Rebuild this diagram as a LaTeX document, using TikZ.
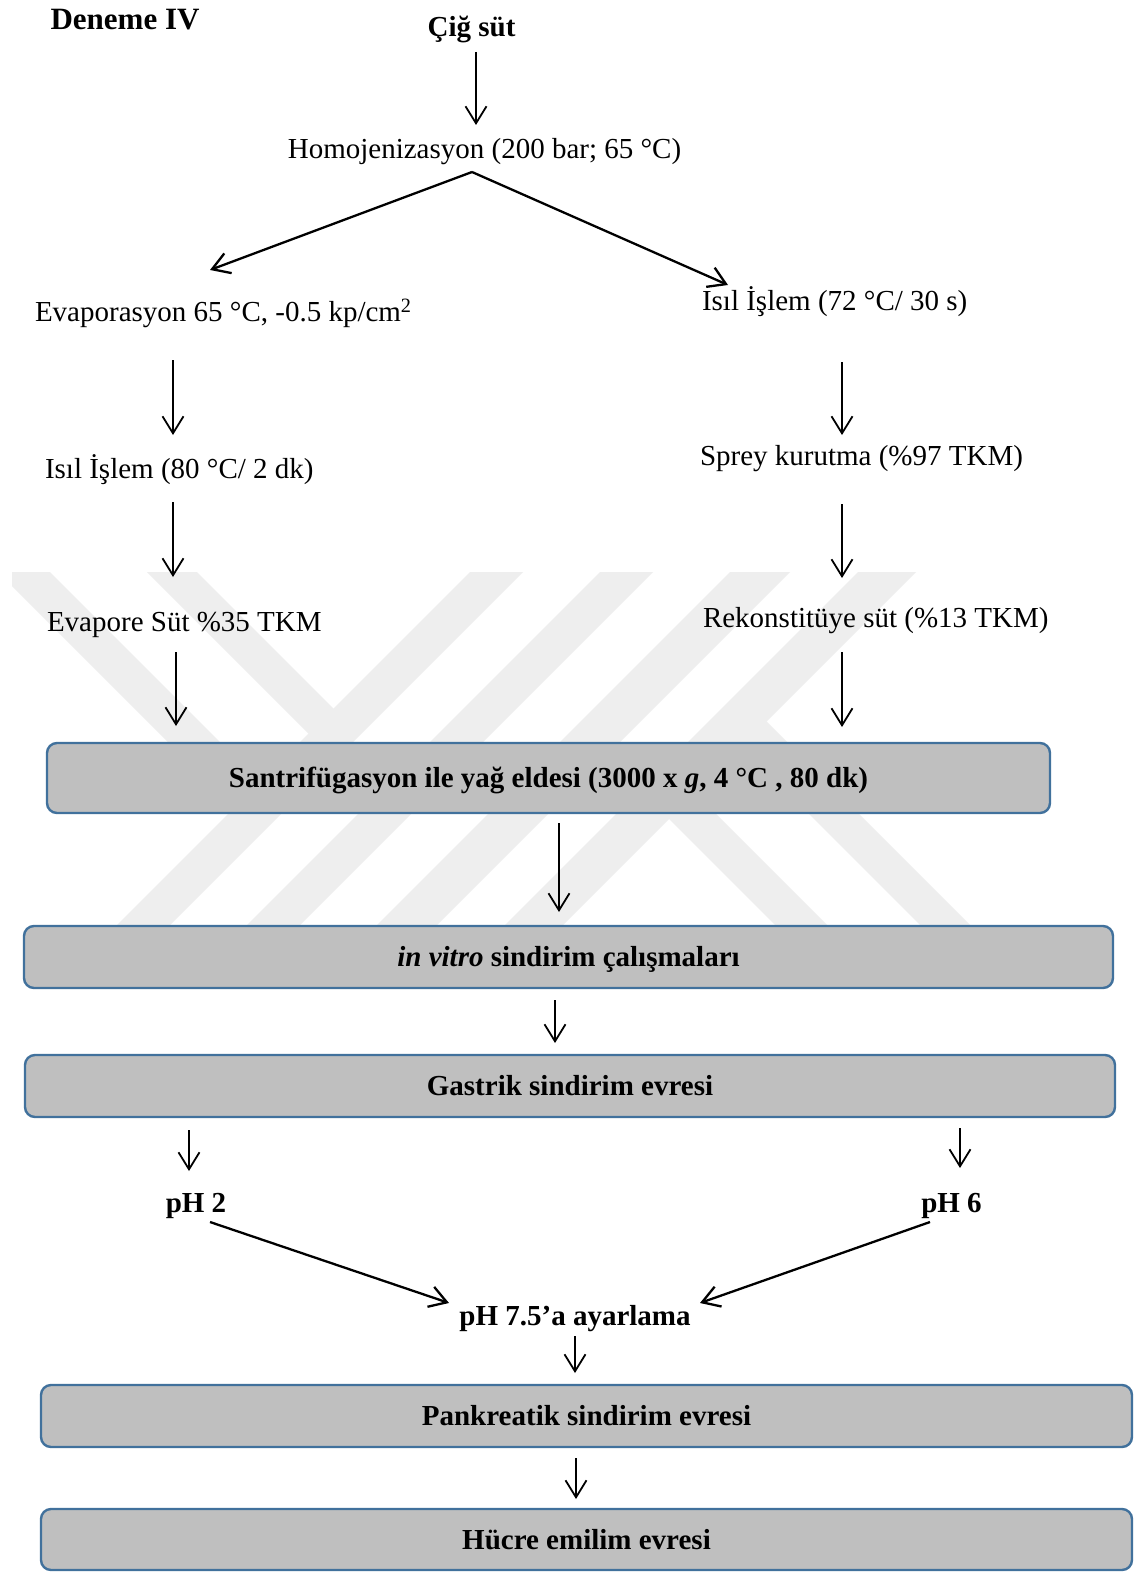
\documentclass[tikz,border=0pt]{standalone}
\usepackage{fontspec}
\setmainfont{Liberation Serif}
\usetikzlibrary{arrows.meta,calc}

\definecolor{boxfill}{RGB}{191,191,191}
\definecolor{boxline}{RGB}{65,113,156}
\definecolor{wmark}{RGB}{238,238,238}

\tikzset{
  lbl/.style={inner sep=0pt, outer sep=0pt, text height=19.5pt, text depth=0pt,
              font=\fontsize{29}{34}\selectfont},
  boldlbl/.style={lbl, font=\fontsize{29}{34}\selectfont\bfseries},
  stage/.style={draw=boxline, line width=2.4pt, fill=boxfill,
                rounded corners=10pt, inner sep=0pt, outer sep=0pt,
                text height=19.5pt, text depth=0pt,
                font=\fontsize{29}{34}\selectfont\bfseries},
  arr/.style={line width=1.8pt, -{Straight Barb[length=17pt,width=21pt]}},
  farr/.style={line width=2.3pt, -{Straight Barb[length=17pt,width=21pt]}},
}

\begin{document}
\begin{tikzpicture}[x=1pt,y=-1pt]
  % page frame
  \fill[white] (0,0) rectangle (1138,1573);
  \useasboundingbox (0,0) rectangle (1138,1573);

  % background emblem (light diagonal bands)
  \fill[wmark] (470,572) -- (523,572) -- (135,960) -- (82,960) -- cycle;
  \fill[wmark] (600,572) -- (653,572) -- (265,960) -- (212,960) -- cycle;
  \fill[wmark] (730,572) -- (790,572) -- (402,960) -- (342,960) -- cycle;
  \fill[wmark] (858,572) -- (916,572) -- (528,960) -- (470,960) -- cycle;
  \fill[wmark] (12,572) -- (50,572) -- (273,795) -- (247,821) -- (12,586) -- cycle;
  \fill[wmark] (147,572) -- (197,572) -- (333.5,708.5) -- (335,760) -- cycle;
  \fill[wmark] (666,764) -- (862,960) -- (810,960) -- (669,819) -- cycle;
  \fill[wmark] (752,707) -- (1005,960) -- (955,960) -- (727,732) -- cycle;

  % titles and first steps
  \node[inner sep=0pt, text height=20.5pt, text depth=0pt,
        font=\fontsize{31}{36}\selectfont\bfseries] (deneme) at (125,19.5) {Deneme IV};
  \node[boldlbl] (cig) at (471.5,26.5) {Çiğ süt};
  \node[lbl] (homo) at (484.5,148.5) {Homojenizasyon (200 bar; 65 °C)};

  % left branch
  \node[lbl, anchor=west] (evap) at (35,311.5) {Evaporasyon 65 °C, -0.5 kp/cm\textsuperscript{2}};
  \node[lbl, anchor=west] (isil2) at (45,468.5) {Isıl İşlem (80 °C/ 2 dk)};
  \node[lbl, anchor=west] (evsut) at (47,621.5) {Evapore Süt \%35 TKM};

  % right branch
  \node[lbl, anchor=west] (isil1) at (702,300.5) {Isıl İşlem (72 °C/ 30 s)};
  \node[lbl, anchor=west] (sprey) at (700,455.5) {Sprey kurutma (\%97 TKM)};
  \node[lbl, anchor=west] (rekon) at (703,617.5) {Rekonstitüye süt (\%13 TKM)};

  % stage boxes
  \node[stage, minimum width=1003pt, minimum height=70pt] (santri) at (548.5,778)
    {Santrifügasyon ile yağ eldesi (3000 x \textit{g}, 4 °C , 80 dk)};
  \node[stage, minimum width=1089pt, minimum height=62pt] (vitro) at (568.5,957)
    {\textit{in vitro} sindirim çalışmaları};
  \node[stage, minimum width=1090pt, minimum height=62pt] (gastrik) at (570,1086)
    {Gastrik sindirim evresi};

  % pH steps
  \node[boldlbl] (ph2) at (196,1203) {pH 2};
  \node[boldlbl] (ph6) at (951.5,1203) {pH 6};
  \node[boldlbl] (ph75) at (575,1316) {pH 7.5’a ayarlama};

  \node[stage, minimum width=1091pt, minimum height=62pt] (pank) at (586.5,1416)
    {Pankreatik sindirim evresi};
  \node[stage, minimum width=1091pt, minimum height=61pt] (huc) at (586.5,1539.5)
    {Hücre emilim evresi};

  % connectors
  \draw[arr] ($(cig.south)+(4.5,15.75)$) -- ($(homo.north)+(-8.5,-13.75)$);
  \draw[farr] ($(homo.south)+(-12.5,13.75)$) -- ($(evap.north west)+(175,-31.75)$);
  \draw[farr] ($(homo.south)+(-12.5,13.75)$) -- ($(isil1.north west)+(26,-5.75)$);

  \draw[arr] ($(evap.south west)+(138,38.75)$) -- ($(isil2.north west)+(128,-23.75)$);
  \draw[arr] ($(isil2.south west)+(128,23.75)$) -- ($(evsut.north west)+(126,-34.75)$);
  \draw[arr] ($(evsut.south west)+(129,20.75)$) -- ($(santri.north west)+(129,-17)$);

  \draw[arr] ($(isil1.south west)+(140,51.75)$) -- ($(sprey.north west)+(142,-10.75)$);
  \draw[arr] ($(sprey.south west)+(142,38.75)$) -- ($(rekon.north west)+(139,-29.75)$);
  \draw[arr] ($(rekon.south west)+(139,24.75)$) -- ($(santri.north west)+(795,-16)$);

  \draw[arr] ($(santri.south)+(10.5,10)$) -- ($(vitro.north)+(-9.5,-14)$);
  \draw[arr] ($(vitro.south)+(-13.5,12)$) -- ($(gastrik.north)+(-15,-12)$);

  \draw[arr] ($(gastrik.south west)+(164,13)$) -- ($(ph2.north)+(-7,-22.25)$);
  \draw[arr] ($(gastrik.south east)+(-155,11)$) -- ($(ph6.north)+(8.5,-25.25)$);

  \draw[farr] ($(ph2.south)+(14,9.25)$) -- ($(ph75.north)+(-126,-3.25)$);
  \draw[farr] ($(ph6.south)+(-21.5,9.25)$) -- ($(ph75.north)+(125,-3.25)$);

  \draw[arr] ($(ph75.south)+(0,10.25)$) -- ($(pank.north)+(-11.5,-12)$);
  \draw[arr] ($(pank.south)+(-10.5,11)$) -- ($(huc.north)+(-10.5,-10)$);
\end{tikzpicture}
\end{document}
